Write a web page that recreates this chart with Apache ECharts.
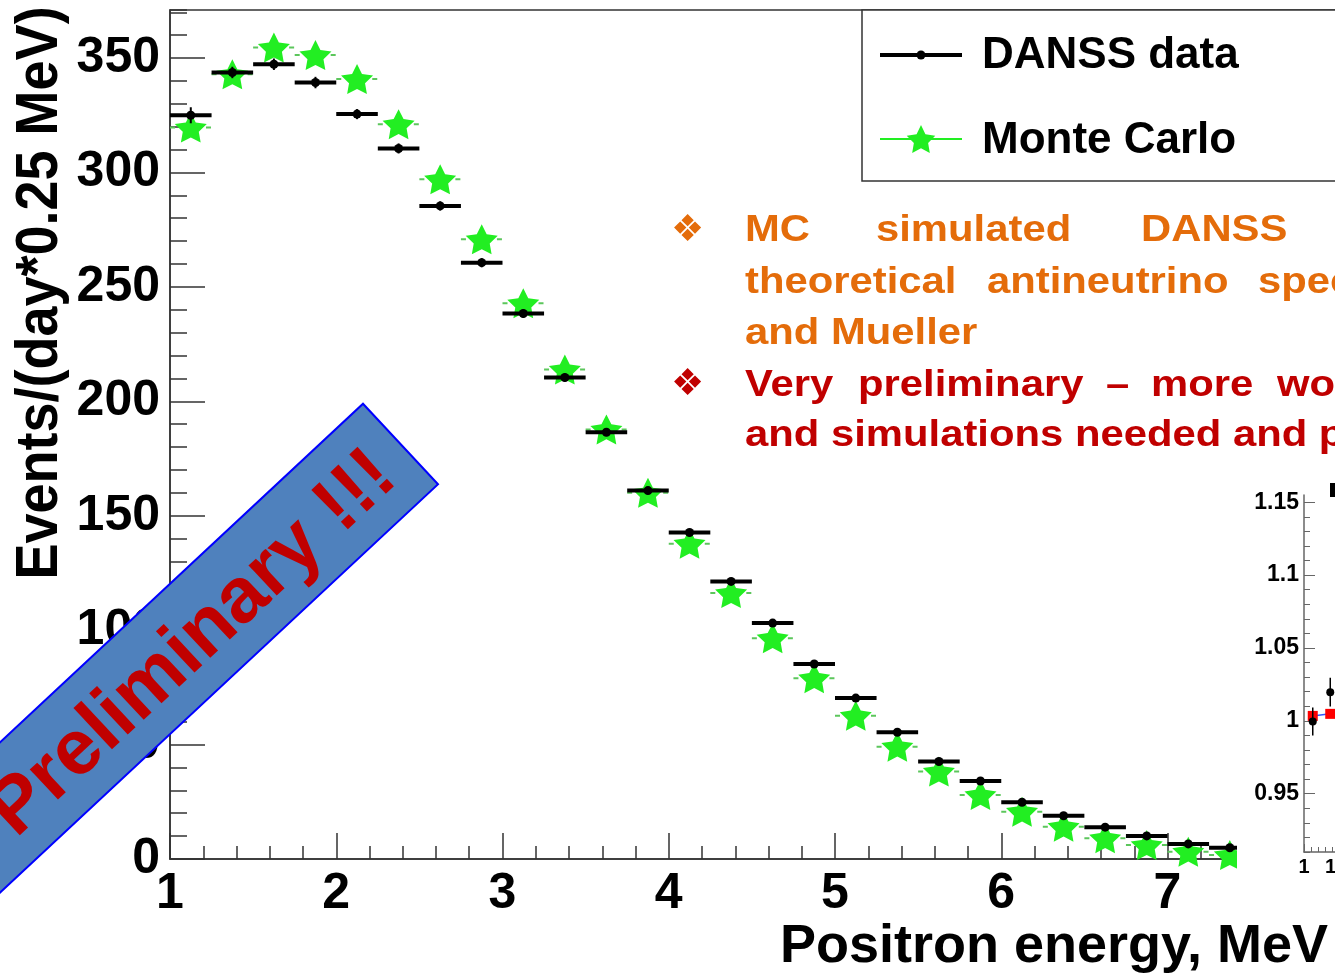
<!DOCTYPE html>
<html><head><meta charset="utf-8">
<script src="https://cdn.jsdelivr.net/npm/echarts@6/dist/echarts.min.js"></script>
<style>html,body{margin:0;padding:0;background:#fff}#c{width:1335px;height:978px}</style>
</head><body><div id="c"></div>
<script>
// ---------- data ----------
const BIN_WIDTH = 0.25;
const energy = [1.125,1.375,1.625,1.875,2.125,2.375,2.625,2.875,3.125,3.375,3.625,3.875,4.125,4.375,4.625,4.875,5.125,5.375,5.625,5.875,6.125,6.375,6.625,6.875,7.125,7.375];
const danssData = [325,343.7,347.3,339.3,325.5,310.5,285.4,260.6,238.4,210.4,186.5,161,142.7,121.3,103.1,85.2,70.3,55.4,42.6,34.1,24.8,18.9,13.9,10.1,6.6,4.9];
const danssErr = [3.5,2.5,2.5,2.5,2.2,2.2,2.0,2.0,1.9,1.8,1.7,1.6,1.5,1.4,1.3,1.2,1.1,1.0,0.9,0.8,0.7,0.7,0.6,0.5,0.5,0.4];
const monteCarlo = [319.6,342.9,354.6,351.3,340.8,321.1,297,270.8,242.8,213.9,187.7,160,137.8,116.2,96.5,79,62.6,49.1,38.2,28,20.7,14.1,9.1,6.1,3.2,1.7];

const insetEnergy = [1.125,1.375];
const insetRatioData = [0.9995,1.0197];
const insetRatioErr = [0.0096,0.0099];
const insetRatioMC = [1.0034,1.0048];
const insetYLabels = [0.95,1,1.05,1.1,1.15];
const insetYMinor = [0.91,0.92,0.93,0.94,0.96,0.97,0.98,0.99,1.01,1.02,1.03,1.04,1.06,1.07,1.08,1.09,1.11,1.12,1.13,1.14];

const yTitle = 'Events/(day*0.25 MeV)';
const xTitle = 'Positron energy, MeV';
const legendNames = ['DANSS data','Monte Carlo'];
const bannerText = 'Very Preliminary !!!';

// ---------- build ----------
const FF = '"Liberation Sans", Arial, Helvetica, sans-serif';
const chart = echarts.init(document.getElementById('c'), null, {renderer:'canvas'});
const dataSet = energy.map((e,i)=>[e, danssData[i], danssErr[i]]);
const mcSet = energy.map((e,i)=>[e, monteCarlo[i]]);
const insetDataSet = insetEnergy.map((e,i)=>[e, insetRatioData[i], insetRatioErr[i]]);
const insetMCSet = insetEnergy.map((e,i)=>[e, insetRatioMC[i]]);
const STAR_PTS = [[50,0],[64.69,29.77],[97.55,34.55],[73.78,57.73],[79.39,90.45],[50,75],[20.61,90.45],[26.22,57.73],[2.45,34.55],[35.31,29.77]];
const STAR = 'path://M' + STAR_PTS.map(p=>p.join(',')).join(' L') + ' Z';
const AX = '#333';
const GREEN = '#22EE22';

function txt(t, x, y, color, size, extra){
  return Object.assign({type:'text', x:x, y:y, z:20, style:{text:t, fill:color, font:'bold '+size+'px '+FF, textAlign:'left', textVerticalAlign:'middle'}}, extra||{});
}
const orange = '#E46C0A', red = '#C00000';
const S = 1.13, FS = 37;
const words = [
  ['MC',745,231,orange],['simulated',876,231,orange],['DANSS',1141,231,orange],['spectrum',1355,231,orange],
  ['theoretical',745,283,orange],['antineutrino',987,283,orange],['spectra',1258,283,orange],
  ['and Mueller',745,334,orange],
  ['Very',745,386,red],['preliminary',858,386,red],['\u2013',1106,386,red],['more',1151,386,red],['work',1277,386,red],
  ['and simulations needed and planned',745,436,red]
];
const graphics = [];
words.forEach(w=>graphics.push(txt(w[0],w[1],w[2],w[3],FS,{scaleX:S})));
graphics.push({type:'text', x:671, y:231, z:20, style:{text:'\u2756', fill:orange, font:'37px "DejaVu Sans"', textAlign:'left', textVerticalAlign:'middle'}});
graphics.push({type:'text', x:671, y:385, z:20, style:{text:'\u2756', fill:red, font:'37px "DejaVu Sans"', textAlign:'left', textVerticalAlign:'middle'}});
// legend
graphics.push({type:'rect', z:19, shape:{x:862,y:10,width:600,height:171}, style:{fill:'#fff', stroke:AX, lineWidth:1.5}});
graphics.push({type:'line', z:20, shape:{x1:880,y1:55,x2:962,y2:55}, style:{stroke:'#000', lineWidth:4}});
graphics.push({type:'circle', z:21, shape:{cx:921,cy:55,r:4.5}, style:{fill:'#000'}});
graphics.push({type:'line', z:20, shape:{x1:880,y1:139,x2:962,y2:139}, style:{stroke:GREEN, lineWidth:2}});
graphics.push({type:'polygon', z:21, shape:{points:STAR_PTS.map(p=>[906+p[0]*0.30, 125+p[1]*0.31])}, style:{fill:GREEN}});
graphics.push(txt(legendNames[0],982,56,'#000',44));
graphics.push(txt(legendNames[1],982,141,'#000',44));
// inset background
graphics.push({type:'rect', z:10, shape:{x:1237,y:468,width:98,height:510}, style:{fill:'#fff'}});
graphics.push({type:'rect', z:11, shape:{x:1330,y:483,width:5,height:14}, style:{fill:'#000'}});
// axis titles
graphics.push({type:'text', x:41, y:293, rotation:Math.PI/2, scaleY:1.08, z:20, style:{text:yTitle, fill:'#000', font:'bold 54px '+FF, textAlign:'center', textVerticalAlign:'middle'}});
graphics.push(txt(xTitle,780,947,'#000',54));
// banner
graphics.push({type:'group', x:400.5, y:444, rotation:43*Math.PI/180, z:30, children:[
  {type:'rect', z:30, shape:{x:-900,y:-55,width:900,height:110}, style:{fill:'#4F81BD', stroke:'#0000FF', lineWidth:2}},
  {type:'text', z:31, x:-26, y:5, style:{text:bannerText, fill:red, font:'bold 78px '+FF, textAlign:'right', textVerticalAlign:'middle'}}
]});

const labelFont = {color:'#000', fontFamily:FF, fontWeight:'bold'};
const option = {
  animation:false,
  backgroundColor:'#fff',
  grid:[
    {left:170, top:10, width:1330, height:849, outerBoundsMode:'none', containLabel:false, show:true, borderColor:AX, borderWidth:1.5, backgroundColor:'transparent'},
    {left:1304, top:495, width:280, height:357, outerBoundsMode:'none', containLabel:false, show:false}
  ],
  xAxis:[
    {gridIndex:0, type:'value', position:'bottom', min:1, max:9, interval:1,
     axisLine:{lineStyle:{color:AX, width:1.5}}, axisTick:{inside:true, length:26, lineStyle:{color:AX, width:1.5}},
     axisLabel:Object.assign({fontSize:50, margin:10}, labelFont), splitLine:{show:false}},
    {gridIndex:0, type:'value', position:'bottom', min:1, max:9, interval:0.2,
     axisLine:{show:false}, axisTick:{inside:true, length:13, lineStyle:{color:AX, width:1.5}},
     axisLabel:{show:false}, splitLine:{show:false}},
    {gridIndex:1, type:'value', position:'bottom', min:1, max:5, interval:0.5, z:11,
     axisLine:{lineStyle:{color:'#666', width:1.5}}, axisTick:{inside:true, length:8, lineStyle:{color:'#666'}},
     minorTick:{show:true, splitNumber:5, length:5, lineStyle:{color:'#666'}},
     axisLabel:Object.assign({fontSize:20, margin:5}, labelFont), splitLine:{show:false}}
  ],
  yAxis:[
    {gridIndex:0, type:'value', position:'left', min:0, max:371, interval:50,
     axisLine:{lineStyle:{color:AX, width:1.5}}, axisTick:{inside:true, length:35, lineStyle:{color:AX, width:1.5}},
     axisLabel:Object.assign({fontSize:50, margin:10, showMaxLabel:false, padding:[9,0,0,0], backgroundColor:'rgba(255,255,255,0)'}, labelFont), splitLine:{show:false}},
    {gridIndex:0, type:'value', position:'left', min:0, max:371, interval:10,
     axisLine:{show:false}, axisTick:{inside:true, length:17, lineStyle:{color:AX, width:1.5}},
     axisLabel:{show:false}, splitLine:{show:false}},
    {gridIndex:1, type:'value', position:'left', min:0.91, max:1.155, z:11,
     axisLine:{lineStyle:{color:'#666', width:1.5}},
     axisTick:{inside:true, length:11, customValues:insetYLabels, lineStyle:{color:'#666'}},
     axisLabel:Object.assign({fontSize:23, margin:5, customValues:insetYLabels}, labelFont), splitLine:{show:false}},
    {gridIndex:1, type:'value', position:'left', min:0.91, max:1.155, z:11,
     axisLine:{show:false}, axisTick:{inside:true, length:6, customValues:insetYMinor, lineStyle:{color:'#666'}},
     axisLabel:{show:false}, splitLine:{show:false}}
  ],
  series:[
    {type:'custom', xAxisIndex:0, yAxisIndex:0, z:2, data:mcSet,
     renderItem:(p,api)=>{const x=api.value(0), y=api.value(1);
       const a=api.coord([x-BIN_WIDTH/2,y]), b=api.coord([x+BIN_WIDTH/2,y]);
       return {type:'line', shape:{x1:a[0],y1:a[1],x2:b[0],y2:b[1]}, style:{stroke:'#5CC65C', lineWidth:2, lineDash:[5,7]}};}},
    {type:'scatter', xAxisIndex:0, yAxisIndex:0, z:3, data:mcSet, symbol:STAR, symbolSize:[32,30],
     itemStyle:{color:GREEN, opacity:1}},
    {type:'custom', xAxisIndex:0, yAxisIndex:0, z:4, data:dataSet,
     renderItem:(p,api)=>{const x=api.value(0), y=api.value(1), e=api.value(2);
       const a=api.coord([x-BIN_WIDTH/2,y]), b=api.coord([x+BIN_WIDTH/2,y]);
       const t=api.coord([x,y+e]), d=api.coord([x,y-e]), c=api.coord([x,y]);
       return {type:'group', children:[
         {type:'line', shape:{x1:a[0],y1:a[1],x2:b[0],y2:b[1]}, style:{stroke:'#000', lineWidth:4}},
         {type:'line', shape:{x1:t[0],y1:t[1],x2:d[0],y2:d[1]}, style:{stroke:'#000', lineWidth:2}},
         {type:'circle', shape:{cx:c[0],cy:c[1],r:4.5}, style:{fill:'#000'}}]};}},
    {type:'line', xAxisIndex:2, yAxisIndex:2, z:12, data:insetMCSet, symbol:'rect', symbolSize:10,
     lineStyle:{color:'#3355FF', width:1.5}, itemStyle:{color:'#FF0000'}},
    {type:'custom', xAxisIndex:2, yAxisIndex:2, z:13, data:insetDataSet,
     renderItem:(p,api)=>{const x=api.value(0), y=api.value(1), e=api.value(2);
       const t=api.coord([x,y+e]), d=api.coord([x,y-e]), c=api.coord([x,y]);
       return {type:'group', children:[
         {type:'line', shape:{x1:t[0],y1:t[1],x2:d[0],y2:d[1]}, style:{stroke:'#000', lineWidth:1.5}},
         {type:'circle', shape:{cx:c[0],cy:c[1],r:4}, style:{fill:'#000'}}]};}}
  ],
  graphic:{elements:graphics}
};
chart.setOption(option);
</script></body></html>
